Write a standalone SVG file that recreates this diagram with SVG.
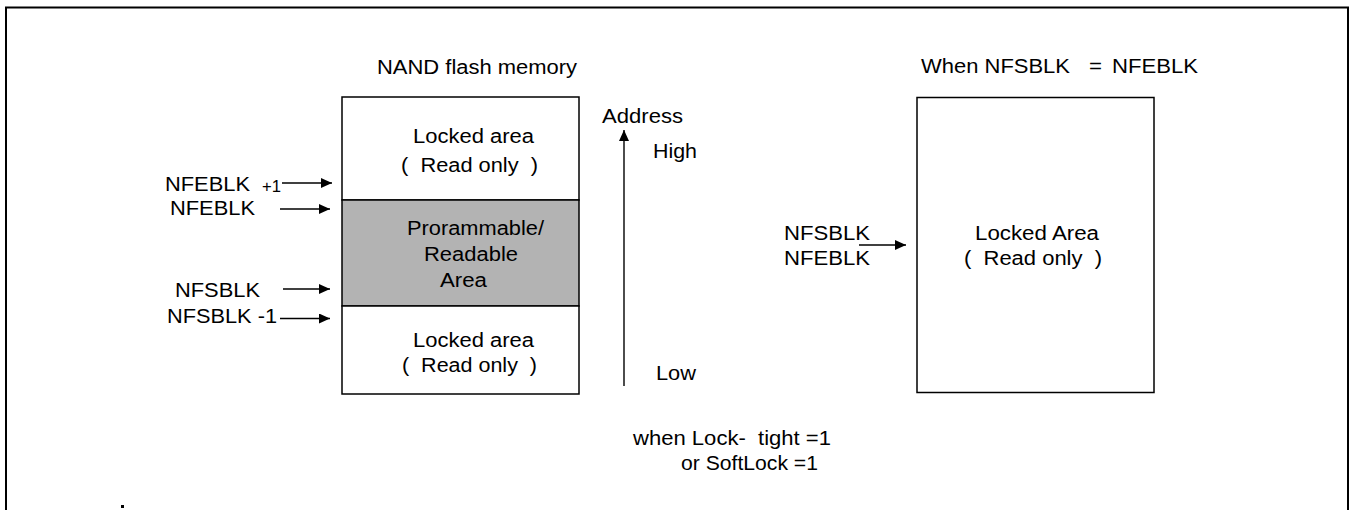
<svg xmlns="http://www.w3.org/2000/svg" width="1353" height="510" viewBox="0 0 1353 510">
<style>
text{font-family:"Liberation Sans",Arial,sans-serif;font-size:20px;fill:#000;white-space:pre}
.s{font-size:17px}
.box{fill:#fff;stroke:#000;stroke-width:1.5}
.gray{fill:#b3b3b3;stroke:#000;stroke-width:1.5}
.conn{stroke:#000;stroke-width:1.4;fill:none;marker-end:url(#ah)}
</style>
<defs>
<marker id="ah" markerUnits="userSpaceOnUse" markerWidth="12" markerHeight="10" refX="11" refY="5" orient="auto">
<path d="M0,0 L11,5 L0,10 Z" fill="#000"/>
</marker>
</defs>
<path d="M6,510 V7.5 H1348 V510" fill="none" stroke="#000" stroke-width="2"/>
<rect x="121" y="505" width="3" height="3" fill="#000"/>
<g id="title-nand"><text x="377" y="74" textLength="200" lengthAdjust="spacingAndGlyphs">NAND flash memory</text></g>
<g id="title-when"><text y="73"><tspan x="921" textLength="149" lengthAdjust="spacingAndGlyphs">When NFSBLK</tspan><tspan x="1089" textLength="13" lengthAdjust="spacingAndGlyphs">=</tspan><tspan x="1112" textLength="86" lengthAdjust="spacingAndGlyphs">NFEBLK</tspan></text></g>
<g id="locked-top">
<rect class="box" x="342" y="97" width="237" height="103"/>
<text x="413" y="143" textLength="121" lengthAdjust="spacingAndGlyphs">Locked area</text>
<text x="401" y="172" textLength="137" lengthAdjust="spacingAndGlyphs">(  Read only  )</text>
</g>
<g id="programmable">
<rect class="gray" x="342" y="200" width="237" height="106"/>
<text x="407" y="235" textLength="137" lengthAdjust="spacingAndGlyphs">Prorammable/</text>
<text x="424" y="261" textLength="94" lengthAdjust="spacingAndGlyphs">Readable</text>
<text x="440" y="287" textLength="47" lengthAdjust="spacingAndGlyphs">Area</text>
</g>
<g id="locked-bottom">
<rect class="box" x="342" y="306" width="237" height="88"/>
<text x="413" y="347" textLength="121" lengthAdjust="spacingAndGlyphs">Locked area</text>
<text x="402" y="372" textLength="135" lengthAdjust="spacingAndGlyphs">(  Read only  )</text>
</g>
<g id="labels-left">
<text x="165" y="190.5" textLength="85" lengthAdjust="spacingAndGlyphs">NFEBLK</text>
<text class="s" x="262" y="191.5" textLength="19" lengthAdjust="spacingAndGlyphs">+1</text>
<text x="170" y="215" textLength="85" lengthAdjust="spacingAndGlyphs">NFEBLK</text>
<text x="175" y="296.5" textLength="85" lengthAdjust="spacingAndGlyphs">NFSBLK</text>
<text x="167" y="323" textLength="110" lengthAdjust="spacingAndGlyphs">NFSBLK -1</text>
</g>
<g id="address-axis">
<text x="602" y="123" textLength="81" lengthAdjust="spacingAndGlyphs">Address</text>
<text x="653" y="158" textLength="44" lengthAdjust="spacingAndGlyphs">High</text>
<text x="656" y="380" textLength="40" lengthAdjust="spacingAndGlyphs">Low</text>
</g>
<g id="condition">
<text x="633" y="445" textLength="198" lengthAdjust="spacingAndGlyphs">when Lock-  tight =1</text>
<text x="681" y="470" textLength="137" lengthAdjust="spacingAndGlyphs">or SoftLock =1</text>
</g>
<g id="locked-right">
<rect class="box" x="917" y="97.5" width="237" height="295"/>
<text x="975" y="240" textLength="124" lengthAdjust="spacingAndGlyphs">Locked Area</text>
<text x="964" y="265" textLength="138" lengthAdjust="spacingAndGlyphs">(  Read only  )</text>
</g>
<g id="labels-right">
<text x="784" y="240" textLength="86" lengthAdjust="spacingAndGlyphs">NFSBLK</text>
<text x="784" y="265" textLength="86" lengthAdjust="spacingAndGlyphs">NFEBLK</text>
</g>
<g id="connectors">
<line class="conn" x1="282" y1="183" x2="332" y2="183"/>
<line class="conn" x1="280" y1="209" x2="330" y2="209"/>
<line class="conn" x1="283" y1="289" x2="330" y2="289"/>
<line class="conn" x1="280" y1="318.5" x2="330" y2="318.5"/>
<line class="conn" x1="859" y1="245" x2="906" y2="245"/>
<line class="conn" x1="624" y1="386" x2="624" y2="130"/>
</g>
</svg>
